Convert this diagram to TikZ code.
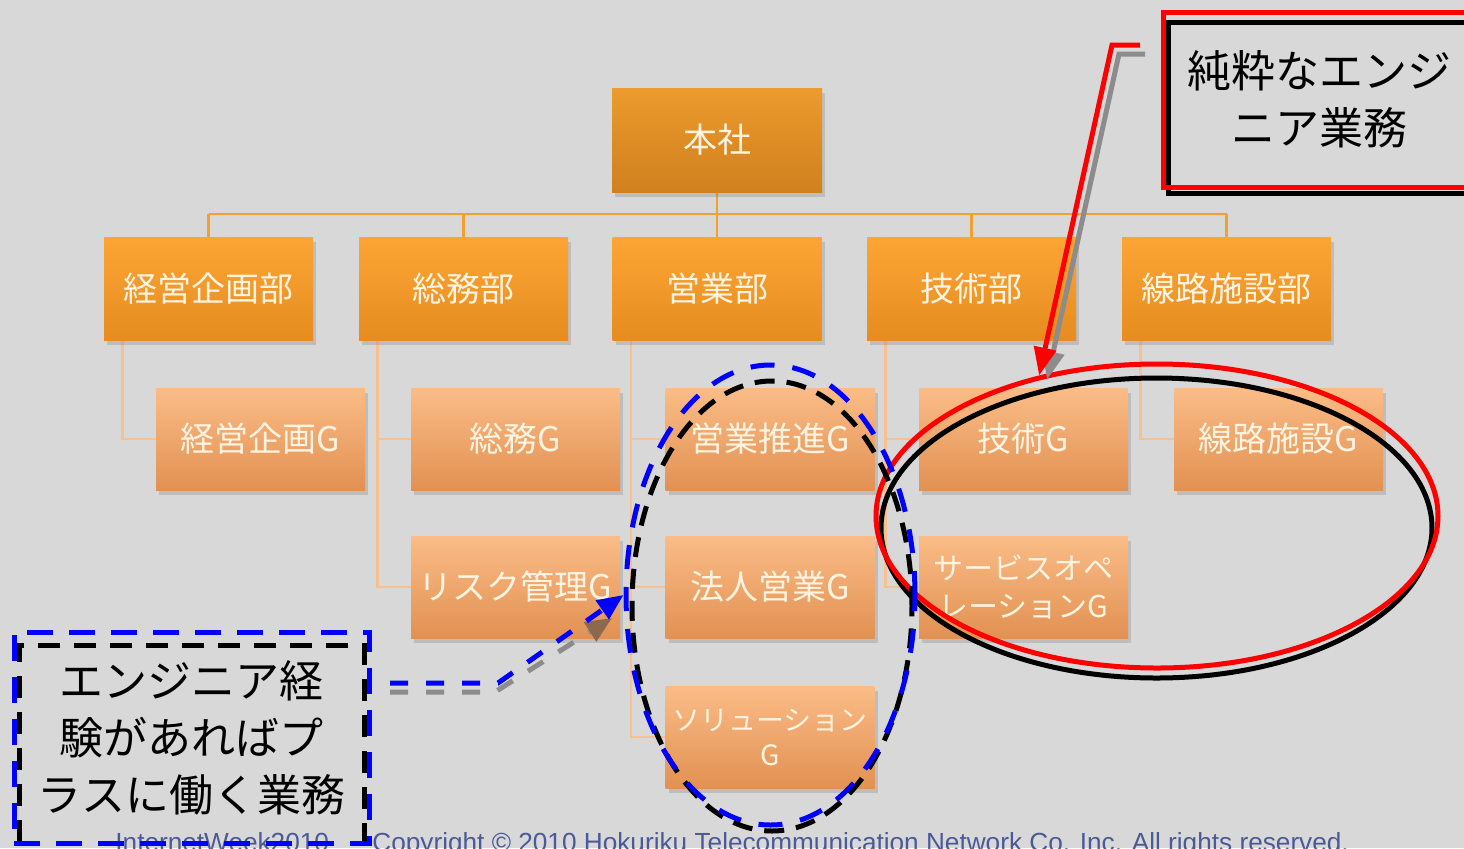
\documentclass[tikz,border=0pt]{standalone}
\usepackage{fontspec}
\setmainfont{Liberation Sans}
\newfontfamily\jpfont{Noto Sans CJK JP}
\usetikzlibrary{shapes.geometric,arrows.meta,shadows,calc}
\pgfdeclarelayer{bg}
\pgfsetlayers{bg,main}
\definecolor{bgc}{RGB}{216,216,216}
\definecolor{hqtop}{RGB}{236,155,45}
\definecolor{hqbot}{RGB}{208,128,30}
\definecolor{dtop}{RGB}{252,165,52}
\definecolor{dbot}{RGB}{230,140,32}
\definecolor{gtop}{RGB}{250,188,135}
\definecolor{gbot}{RGB}{226,145,82}
\definecolor{txt}{RGB}{255,244,225}
\definecolor{busc}{RGB}{242,160,50}
\definecolor{subc}{RGB}{246,192,145}
\definecolor{foot}{RGB}{75,90,150}
\definecolor{rred}{RGB}{255,0,0}
\definecolor{bblue}{RGB}{0,0,255}
\definecolor{shgray}{RGB}{140,140,140}
\definecolor{shbrown}{RGB}{140,104,76}
\begin{document}
\begin{tikzpicture}[x=0.5pt,y=-0.5pt,
  box/.style={rectangle, minimum width=104.5pt, minimum height=51.5pt, inner sep=0pt,
    text=txt, font=\jpfont\fontsize{17pt}{20pt}\selectfont, align=center,
    drop shadow={shadow xshift=1.5pt, shadow yshift=-2.5pt, opacity=0.3}},
  hqbox/.style={box, top color=hqtop, bottom color=hqbot, minimum width=105pt, minimum height=52pt},
  deptbox/.style={box, top color=dtop, bottom color=dbot},
  grpbox/.style={box, top color=gtop, bottom color=gbot, minimum height=51pt},
  busline/.style={draw=busc, line width=1.2pt},
  subline/.style={draw=subc, line width=1.2pt},
  ring/.style={ellipse, inner sep=0pt, line width=2.5pt},
  callfont/.style={font=\jpfont\fontsize{22pt}{28.5pt}\selectfont, align=center, text=black},
  shadowline/.style={draw=shgray, line width=2.5pt},
  foottext/.style={anchor=base west, inner sep=0pt, text=foot, font=\fontsize{13.1pt}{15pt}\selectfont}
]
\begin{pgfonlayer}{bg}
\fill[bgc] (0,0) rectangle (1464,848);
\end{pgfonlayer}
\useasboundingbox (0,0) rectangle (1464,848);

% boxes
\node[hqbox] (hq) at (717,140) {本社};
\node[deptbox] (d1) at (208.5,288.5) {経営企画部};
\node[deptbox] (d2) at (463.5,288.5) {総務部};
\node[deptbox] (d3) at (717,288.5) {営業部};
\node[deptbox] (d4) at (971.5,288.5) {技術部};
\node[deptbox] (d5) at (1226.5,288.5) {線路施設部};

\node[grpbox] (g11) at (260.5,439) {経営企画G};
\node[grpbox] (g21) at (515.5,439) {総務G};
\node[grpbox] (g22) at (515.5,587) {リスク管理G};
\node[grpbox] (g31) at (770,439) {営業推進G};
\node[grpbox] (g32) at (770,587) {法人営業G};
\node[grpbox, font=\jpfont\fontsize{14pt}{17.5pt}\selectfont] (g33) at (770,737) {ソリューション\\G};
\node[grpbox] (g41) at (1023.5,439) {技術G};
\node[grpbox, font=\jpfont\fontsize{15pt}{19pt}\selectfont] (g42) at (1023.5,587) {サービスオペ\\レーションG};
\node[grpbox] (g51) at (1278.5,439) {線路施設G};

% connectors
\begin{pgfonlayer}{bg}
\coordinate (bus) at (0,214);
\draw[busline] (hq.south) -- (hq.south |- bus);
\draw[busline] (d1.north |- bus) -- (d5.north |- bus);
\foreach \d in {d1,d2,d3,d4,d5} \draw[busline] (\d.north) -- (\d.north |- bus);
\draw[subline] ([xshift=9.5pt]d1.south west) |- (g11.west);
\draw[subline] ([xshift=9.5pt]d2.south west) |- (g22.west);
\draw[subline] ([xshift=9.5pt]d2.south west |- g21.west) -- (g21.west);
\draw[subline] ([xshift=9.5pt]d3.south west) |- (g33.west);
\draw[subline] ([xshift=9.5pt]d3.south west |- g31.west) -- (g31.west);
\draw[subline] ([xshift=9.5pt]d3.south west |- g32.west) -- (g32.west);
\draw[subline] ([xshift=9.5pt]d4.south west) |- (g42.west);
\draw[subline] ([xshift=9.5pt]d4.south west |- g41.west) -- (g41.west);
\draw[subline] ([xshift=9.5pt]d5.south west) |- (g51.west);
\end{pgfonlayer}

% footer
\node[foottext] (ft1) at (115,851) {InternetWeek2010};
\node[foottext] (ft2) at (372,851) {Copyright © 2010 Hokuriku Telecommunication Network Co. Inc. All rights reserved.};

% ellipses
\node[ring, draw=black, minimum width=275.5pt, minimum height=150pt] (blkell) at (1156.5,528) {};
\node[ring, draw=rred, minimum width=281pt, minimum height=152pt] (redell) at (1157,516) {};
\node[ring, draw=black, dash pattern=on 10pt off 6pt, minimum width=140pt, minimum height=225pt] (blkdash) at (772,606) {};
\node[ring, draw=bblue, dash pattern=on 12pt off 9pt, minimum width=144.5pt, minimum height=230pt] (blueell) at (770.5,595) {};

% callout top right
\node[draw=black, line width=2.5pt, minimum width=156pt, minimum height=85.5pt, inner sep=0pt] (c1s) at (1324,107.5) {};
\node[draw=rred, line width=2.5pt, minimum width=156pt, minimum height=87.5pt, inner sep=0pt, callfont] (c1) at (1319,99.5) {純粋なエンジ\\ニア業務};

% callout bottom left
\node[draw=black, line width=2.5pt, dash pattern=on 11pt off 7pt, minimum width=172.5pt, minimum height=107.5pt, inner sep=0pt] (c2s) at (191.5,752.5) {};
\node[draw=bblue, line width=2.5pt, dash pattern=on 13pt off 8pt, minimum width=177.5pt, minimum height=105.5pt, inner sep=0pt, callfont] (c2) at (191.5,737.5) {エンジニア経\\験があればプ\\ラスに働く業務};

% arrows
\coordinate (rs) at (1140,45);
\coordinate (rss) at (1145,54);
\draw[shadowline, -{Triangle[length=14pt,width=11pt]}] (rss) -- (1119,54) -- ([shift={(8,4)}]redell.130);
\draw[rred, line width=2.5pt, -{Triangle[length=14pt,width=11pt]}] (rs) -- (1112,45) -- (redell.130);

\coordinate (bs) at (390,692);
\coordinate (bb) at (390,683);
\draw[shadowline, dash pattern=on 9pt off 9pt, -{Triangle[length=13pt,width=11pt,color=shbrown]}] (bs) -- (495,692) -- (612,618);
\draw[bblue, line width=2.5pt, dash pattern=on 9pt off 9pt, -{Triangle[length=13pt,width=11pt]}] (bb) -- (498,683) -- (blueell.west);
\end{tikzpicture}
\end{document}
